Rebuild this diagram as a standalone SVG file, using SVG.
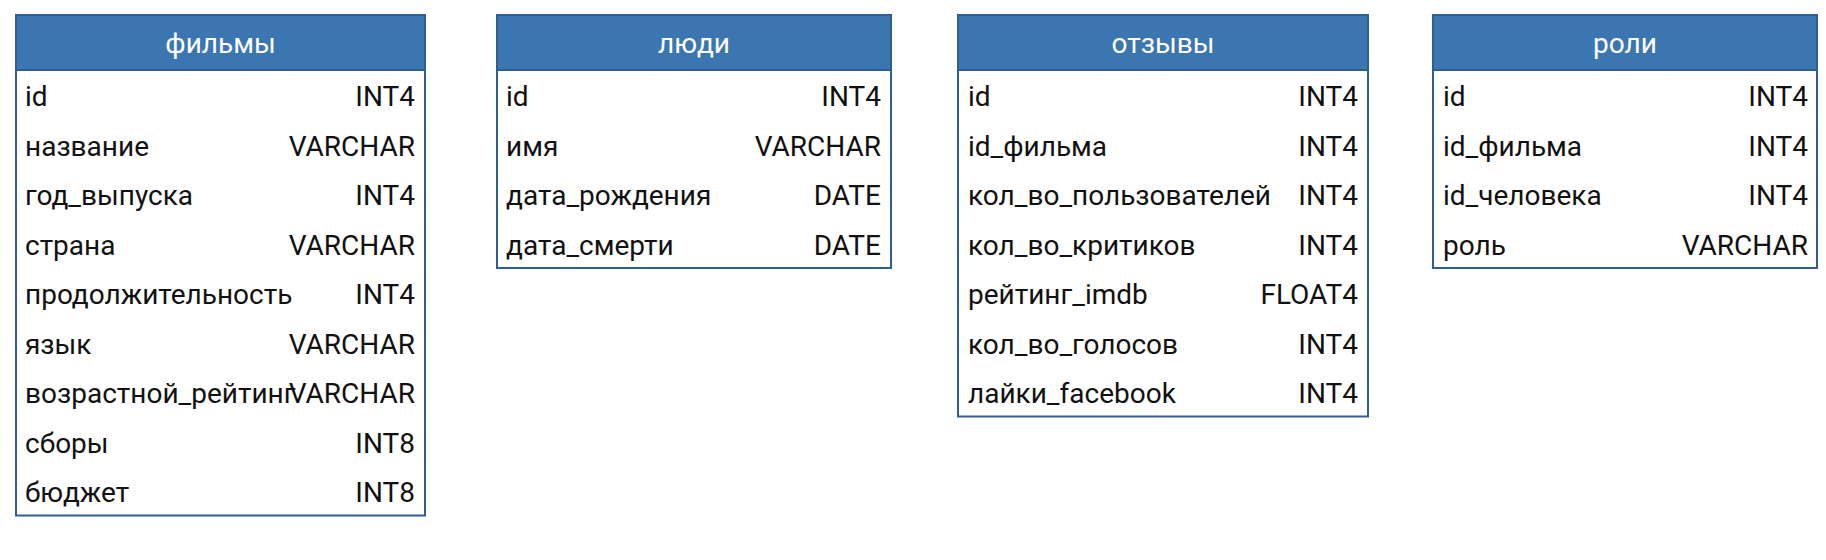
<svg xmlns="http://www.w3.org/2000/svg" width="1826" height="560" viewBox="0 0 1826 560">
<style>
.body{fill:#ffffff;stroke:#2e5f90;stroke-width:2}
.head{fill:#3b76b1;stroke:#2e5f90;stroke-width:2}
.title{font-family:Roboto,"Noto Sans",sans-serif;font-size:28px;fill:#ffffff;text-anchor:middle}
.name{font-family:Roboto,"Noto Sans",sans-serif;font-size:28px;fill:#111111}
.type{font-family:Roboto,"Noto Sans",sans-serif;font-size:28px;fill:#111111;text-anchor:end}
</style>
<rect width="1826" height="560" fill="#ffffff"/>
<g id="connectors"></g>
<g id="films">
<rect class="body" x="16" y="15" width="409" height="500.5"/>
<rect class="head" x="16" y="15" width="409" height="55"/>
<text class="title" x="220.5" y="53">фильмы</text>
<text class="name" x="25" y="106">id</text><text class="type" x="415" y="106">INT4</text>
<text class="name" x="25" y="155.5">название</text><text class="type" x="415" y="155.5">VARCHAR</text>
<text class="name" x="25" y="205">год_выпуска</text><text class="type" x="415" y="205">INT4</text>
<text class="name" x="25" y="254.5">страна</text><text class="type" x="415" y="254.5">VARCHAR</text>
<text class="name" x="25" y="304">продолжительность</text><text class="type" x="415" y="304">INT4</text>
<text class="name" x="25" y="353.5">язык</text><text class="type" x="415" y="353.5">VARCHAR</text>
<text class="name" x="25" y="403">возрастной_рейтинг</text><text class="type" x="415" y="403">VARCHAR</text>
<text class="name" x="25" y="452.5">сборы</text><text class="type" x="415" y="452.5">INT8</text>
<text class="name" x="25" y="502">бюджет</text><text class="type" x="415" y="502">INT8</text>
</g>
<g id="people">
<rect class="body" x="497" y="15" width="394" height="253"/>
<rect class="head" x="497" y="15" width="394" height="55"/>
<text class="title" x="694" y="53">люди</text>
<text class="name" x="506" y="106">id</text><text class="type" x="881" y="106">INT4</text>
<text class="name" x="506" y="155.5">имя</text><text class="type" x="881" y="155.5">VARCHAR</text>
<text class="name" x="506" y="205">дата_рождения</text><text class="type" x="881" y="205">DATE</text>
<text class="name" x="506" y="254.5">дата_смерти</text><text class="type" x="881" y="254.5">DATE</text>
</g>
<g id="reviews">
<rect class="body" x="958" y="15" width="410" height="401.5"/>
<rect class="head" x="958" y="15" width="410" height="55"/>
<text class="title" x="1163" y="53">отзывы</text>
<text class="name" x="968" y="106">id</text><text class="type" x="1358" y="106">INT4</text>
<text class="name" x="968" y="155.5">id_фильма</text><text class="type" x="1358" y="155.5">INT4</text>
<text class="name" x="968" y="205">кол_во_пользователей</text><text class="type" x="1358" y="205">INT4</text>
<text class="name" x="968" y="254.5">кол_во_критиков</text><text class="type" x="1358" y="254.5">INT4</text>
<text class="name" x="968" y="304">рейтинг_imdb</text><text class="type" x="1358" y="304">FLOAT4</text>
<text class="name" x="968" y="353.5">кол_во_голосов</text><text class="type" x="1358" y="353.5">INT4</text>
<text class="name" x="968" y="403">лайки_facebook</text><text class="type" x="1358" y="403">INT4</text>
</g>
<g id="roles">
<rect class="body" x="1433" y="15" width="384" height="253"/>
<rect class="head" x="1433" y="15" width="384" height="55"/>
<text class="title" x="1625" y="53">роли</text>
<text class="name" x="1443" y="106">id</text><text class="type" x="1808" y="106">INT4</text>
<text class="name" x="1443" y="155.5">id_фильма</text><text class="type" x="1808" y="155.5">INT4</text>
<text class="name" x="1443" y="205">id_человека</text><text class="type" x="1808" y="205">INT4</text>
<text class="name" x="1443" y="254.5">роль</text><text class="type" x="1808" y="254.5">VARCHAR</text>
</g>
</svg>
